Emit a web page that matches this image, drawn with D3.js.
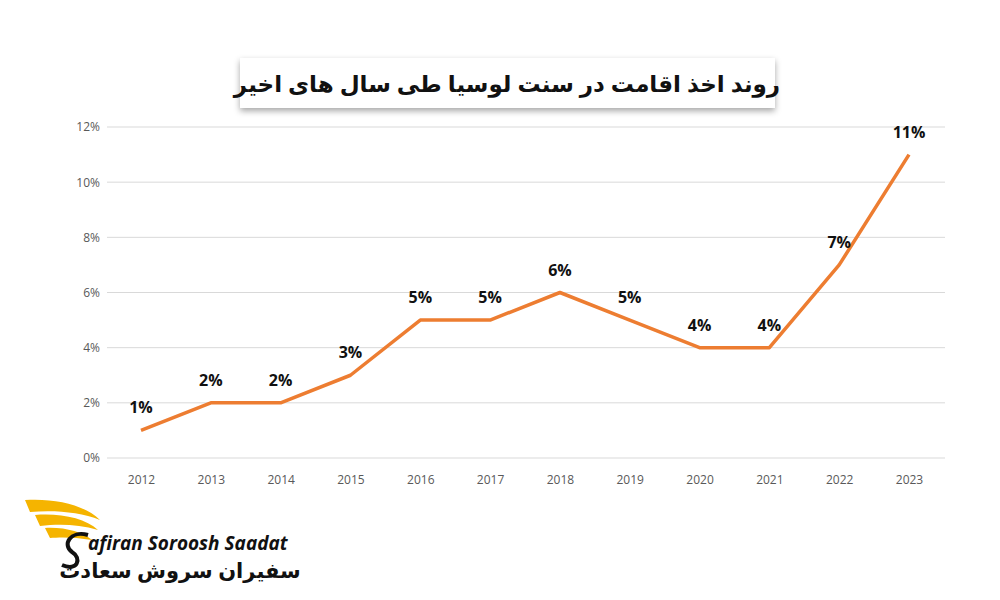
<!DOCTYPE html>
<meta charset="utf-8">
<style>
body { margin: 0; background: #fff; }
.grid line { stroke: #d9d9d9; }
.axis text { font-family: "Open Sans", sans-serif; font-size: 12px; fill: #595959; }
.axis path, .axis line { display: none; }
.line { fill: none; stroke: #ed7d31; stroke-width: 3.5px; stroke-linejoin: round; }
.lbl { font-family: "Open Sans", sans-serif; font-weight: bold; font-size: 16px; fill: #111; text-anchor: middle; }
</style>
<svg width="1000" height="600"></svg>
<script src="https://d3js.org/d3.v7.min.js"></script>
<script>
var years = ["2012","2013","2014","2015","2016","2017","2018","2019","2020","2021","2022","2023"];
var rates = [1, 2, 2, 3, 5, 5, 6, 5, 4, 4, 7, 11];
var yTicks = [0, 2, 4, 6, 8, 10, 12];
var title = "روند اخذ اقامت در سنت لوسیا طی سال های اخیر";

var svg = d3.select("svg");
var defs = svg.append("defs");
var f = defs.append("filter").attr("id", "sh").attr("x", "-10%").attr("y", "-30%").attr("width", "120%").attr("height", "170%");
f.append("feDropShadow").attr("dx", 0).attr("dy", 3).attr("stdDeviation", 3).attr("flood-color", "#000").attr("flood-opacity", 0.35);

var data = years.map(function(d, i) { return {year: d, v: rates[i]}; });

var x = d3.scalePoint().domain(years).range([141, 909]);
var y = d3.scaleLinear().domain([0, 12]).range([458, 127]);

svg.append("g").attr("class", "grid")
  .selectAll("line").data(yTicks).enter().append("line")
  .attr("x1", 107).attr("x2", 945)
  .attr("y1", function(d) { return y(d); }).attr("y2", function(d) { return y(d); });

svg.append("g").attr("class", "axis")
  .attr("transform", "translate(103,0)")
  .call(d3.axisLeft(y).tickValues(yTicks).tickSize(0).tickFormat(function(d) { return d + "%"; }));

svg.append("g").attr("class", "axis")
  .attr("transform", "translate(0,472)")
  .call(d3.axisBottom(x).tickSize(0));

var line = d3.line().x(function(d) { return x(d.year); }).y(function(d) { return y(d.v); });
svg.append("path").datum(data).attr("class", "line").attr("d", line);

svg.selectAll(".lbl").data(data).enter().append("text")
  .attr("class", "lbl")
  .attr("x", function(d) { return x(d.year); })
  .attr("y", function(d) { return y(d.v) - 17; })
  .text(function(d) { return d.v + "%"; });

// title box
svg.append("rect").attr("x", 240).attr("y", 58).attr("width", 535).attr("height", 50)
  .attr("fill", "#fff").attr("filter", "url(#sh)");
svg.append("text").attr("x", 507).attr("y", 92).attr("text-anchor", "middle")
  .style("font-family", "'Noto Sans', 'DejaVu Sans', sans-serif").style("font-weight", "bold").style("font-size", "23px")
  .attr("fill", "#111").text(title);

// logo
var logo = svg.append("g");
logo.append("path").attr("d", "M25,500 C55,498 85,505 100,520 C80,512 55,510 30,512 Z").attr("fill", "#f5b400");
logo.append("path").attr("d", "M35,515 C60,513 85,518 98,530 C78,524 58,524 40,526 Z").attr("fill", "#f5b400");
logo.append("path").attr("d", "M45,528 C65,527 82,532 92,540 C75,537 60,537 50,538 Z").attr("fill", "#f5b400");
logo.append("path").attr("d", "M88,535 C70,530 62,545 72,552 C82,558 78,572 62,565").attr("fill", "none").attr("stroke", "#111").attr("stroke-width", 4);
logo.append("text").attr("x", 88).attr("y", 550)
  .style("font-family", "'Open Sans', sans-serif").style("font-weight", "bold").style("font-style", "italic").style("font-size", "19px")
  .attr("fill", "#111").text("afiran Soroosh Saadat");
logo.append("text").attr("x", 180).attr("y", 578).attr("text-anchor", "middle")
  .style("font-family", "'Noto Sans', 'DejaVu Sans', sans-serif").style("font-weight", "bold").style("font-size", "21px")
  .attr("fill", "#111").text("سفیران سروش سعادت");
</script>
